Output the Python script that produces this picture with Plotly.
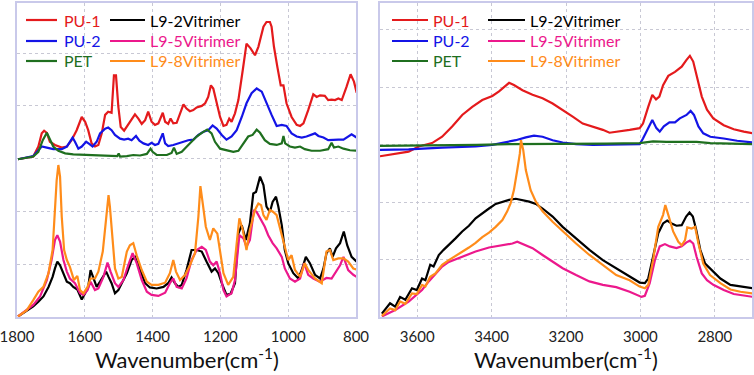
import plotly.graph_objects as go

# ---------------- Left panel (1800-800 cm-1) ----------------
pu1_L_x = [1797,1752,1737,1727,1720,1712,1703,1688,1668,1653,1639,1624,1609,1599,1590,1580,1570,1560,1550,1540,1531,1521,1514,1508,1501,1494,1484,1472,1462,1452,1442,1432,1422,1413,1403,1393,1383,1370,1363,1354,1347,1339,1329,1319,1309,1300,1290,1280,1270,1255,1245,1236,1228,1221,1213,1201,1191,1182,1174,1167,1157,1147,1134,1123,1111,1098,1088,1073,1064,1054,1049,1042,1032,1022,1014,1005,990,975,965,955,941,926,916,906,892,882,872,862,852,842,828,816,806,798]
pu1_L_y = [2.99,3.04,3.23,3.48,3.53,3.49,3.32,3.26,3.21,3.23,3.35,3.54,3.79,3.70,3.54,3.29,3.23,3.26,3.48,3.83,3.89,3.87,4.58,4.58,3.98,3.60,3.53,3.64,3.73,3.84,3.76,3.66,3.73,3.89,3.70,3.64,3.67,3.87,3.70,3.66,3.76,3.67,3.68,3.86,4.03,3.95,3.90,3.92,3.97,4.00,4.05,4.17,4.39,4.33,4.11,3.79,3.62,3.64,3.76,3.70,3.86,4.11,4.68,5.18,5.09,4.96,5.12,5.50,5.59,5.59,5.50,5.12,4.74,4.39,4.39,4.05,3.79,3.64,3.62,3.67,3.92,4.22,4.17,4.20,4.19,4.11,4.12,4.11,4.14,4.11,4.36,4.60,4.46,4.25]

pu2_L_x = [1797,1752,1737,1727,1712,1693,1668,1653,1644,1636,1629,1619,1609,1596,1587,1577,1565,1555,1540,1531,1521,1511,1496,1484,1472,1462,1449,1439,1427,1413,1403,1393,1383,1370,1363,1354,1339,1324,1309,1295,1280,1265,1250,1236,1223,1211,1196,1182,1167,1152,1137,1123,1108,1093,1078,1064,1049,1034,1019,1005,990,975,960,946,931,921,911,896,882,867,852,837,823,813,803,798]
pu2_L_y = [2.99,3.05,3.16,3.23,3.21,3.18,3.18,3.23,3.32,3.40,3.32,3.19,3.23,3.32,3.28,3.23,3.32,3.48,3.57,3.59,3.54,3.45,3.38,3.36,3.38,3.35,3.43,3.34,3.29,3.26,3.30,3.26,3.28,3.48,3.29,3.24,3.26,3.29,3.32,3.35,3.36,3.45,3.51,3.54,3.63,3.57,3.45,3.36,3.42,3.54,3.79,4.05,4.24,4.33,4.27,4.05,3.83,3.62,3.64,3.62,3.48,3.42,3.40,3.42,3.45,3.48,3.43,3.40,3.35,3.36,3.36,3.36,3.42,3.46,3.42,3.40]

pet_L_x = [1797,1752,1737,1724,1712,1703,1693,1678,1658,1634,1604,1575,1545,1516,1504,1500,1496,1476,1457,1437,1417,1406,1400,1388,1358,1344,1337,1329,1314,1299,1285,1270,1255,1239,1226,1216,1201,1182,1162,1147,1132,1118,1105,1093,1083,1069,1054,1034,1019,1014,1009,995,980,965,951,931,906,882,872,865,852,837,818,798]
pet_L_y = [2.99,3.04,3.13,3.35,3.49,3.38,3.23,3.15,3.10,3.08,3.07,3.06,3.05,3.05,3.05,3.10,3.04,3.05,3.07,3.06,3.09,3.19,3.13,3.07,3.07,3.11,3.21,3.09,3.13,3.23,3.32,3.42,3.49,3.55,3.48,3.32,3.19,3.16,3.13,3.15,3.29,3.42,3.45,3.55,3.49,3.35,3.28,3.26,3.29,3.43,3.29,3.23,3.21,3.23,3.18,3.15,3.15,3.18,3.30,3.21,3.23,3.19,3.16,3.15]

l92_L_x = [1797,1752,1737,1722,1707,1695,1688,1681,1673,1663,1653,1644,1634,1622,1609,1599,1590,1583,1575,1565,1555,1537,1530,1521,1511,1501,1491,1476,1462,1452,1442,1432,1422,1408,1388,1368,1354,1344,1334,1324,1314,1300,1285,1270,1255,1241,1226,1216,1206,1196,1182,1170,1157,1147,1137,1125,1113,1103,1095,1083,1073,1064,1054,1046,1036,1029,1019,1010,1000,985,970,960,948,936,921,906,896,887,877,869,859,847,836,826,813,798]
l92_L_y = [0.01,0.20,0.29,0.39,0.57,0.76,0.92,1.05,0.98,0.83,0.67,0.64,0.57,0.52,0.33,0.45,0.57,0.89,0.73,0.57,0.67,0.86,0.76,0.64,0.45,0.51,0.64,0.83,1.08,1.14,0.98,0.80,0.64,0.56,0.54,0.57,0.64,0.75,0.64,0.57,0.61,0.89,1.27,1.27,1.24,1.05,0.86,0.92,0.83,0.64,0.42,0.44,0.64,1.58,1.74,1.46,1.77,2.34,2.37,2.66,2.50,2.09,1.99,2.18,2.28,2.09,1.74,1.27,1.02,0.83,0.73,0.89,1.14,1.02,0.80,0.73,0.92,1.21,1.30,1.14,1.30,1.40,1.62,1.36,1.14,1.05]

l95_L_x = [1797,1752,1732,1712,1698,1688,1681,1673,1663,1653,1644,1629,1614,1604,1592,1583,1570,1560,1545,1533,1524,1511,1501,1486,1472,1459,1447,1432,1417,1403,1383,1363,1349,1339,1329,1314,1300,1285,1270,1255,1243,1231,1221,1211,1201,1191,1182,1167,1157,1144,1132,1123,1113,1101,1093,1083,1069,1059,1046,1034,1019,1010,995,980,965,953,941,926,908,898,887,872,857,847,837,823,808,798]
l95_L_y = [0.01,0.23,0.39,0.70,1.08,1.46,1.55,1.43,1.08,0.86,0.73,0.64,0.45,0.42,0.51,0.67,0.51,0.54,0.76,1.03,0.86,0.64,0.57,0.70,0.98,1.21,1.02,0.70,0.48,0.42,0.40,0.46,0.64,0.73,0.57,0.54,0.73,1.08,1.27,1.33,1.27,1.05,0.98,1.05,0.83,0.51,0.39,0.45,0.70,1.55,1.49,1.33,1.46,2.03,1.99,1.87,1.71,1.55,1.40,1.30,1.14,0.92,0.73,0.67,0.73,1.02,0.80,0.73,0.67,0.70,0.74,0.73,0.89,0.98,1.14,0.89,0.80,0.76]

l98_L_x = [1797,1771,1752,1737,1722,1707,1695,1688,1683,1678,1673,1668,1661,1653,1644,1632,1622,1614,1604,1592,1583,1570,1560,1547,1537,1530,1526,1518,1511,1501,1491,1476,1467,1457,1447,1432,1417,1403,1383,1363,1349,1339,1331,1319,1304,1290,1275,1265,1259,1252,1243,1231,1221,1209,1201,1191,1177,1162,1150,1144,1134,1123,1113,1098,1088,1080,1073,1064,1054,1044,1034,1024,1014,1000,990,980,965,951,941,921,901,887,877,867,852,837,823,808,798]
l98_L_y = [0.01,0.13,0.32,0.48,0.57,0.83,1.27,2.03,2.59,2.88,2.66,1.90,1.27,1.08,0.95,0.70,0.78,0.51,0.45,0.57,0.73,0.73,0.86,1.24,1.90,2.31,2.09,1.40,0.92,0.73,0.76,1.24,1.36,1.40,1.17,0.89,0.67,0.61,0.61,0.65,0.83,1.08,0.86,0.70,0.80,0.98,1.21,1.90,2.48,2.15,1.71,1.46,1.68,1.58,1.27,0.83,0.61,0.76,1.52,1.87,1.65,1.27,1.65,2.03,2.15,2.12,1.93,1.84,2.03,1.99,1.93,1.68,1.40,1.08,1.17,0.89,0.76,1.02,0.89,0.73,0.64,1.24,1.27,1.08,1.11,1.11,1.05,0.92,0.90]

# ---------------- Right panel (3700-2700 cm-1) ----------------
pu1_R_x = [3700,3659,3623,3596,3560,3533,3506,3479,3452,3425,3398,3380,3367,3353,3340,3317,3290,3263,3236,3209,3182,3155,3128,3101,3083,3056,3029,3002,2993,2979,2968,2958,2949,2939,2925,2907,2889,2876,2867,2858,2849,2835,2821,2804,2776,2749,2722,2697]
pu1_R_y = [2.80,2.84,2.88,2.97,3.03,3.14,3.32,3.52,3.66,3.78,3.85,3.93,4.01,4.08,4.04,3.95,3.87,3.81,3.72,3.61,3.49,3.37,3.32,3.26,3.21,3.23,3.26,3.29,3.37,3.66,3.87,3.79,3.84,4.04,4.20,4.27,4.36,4.48,4.55,4.45,4.19,3.84,3.61,3.46,3.34,3.27,3.23,3.20]

pu2_R_x = [3700,3623,3533,3443,3398,3371,3335,3308,3286,3263,3236,3209,3173,3128,3083,3038,3002,2993,2979,2968,2957,2948,2937,2922,2907,2894,2876,2865,2856,2844,2831,2812,2776,2740,2697]
pu2_R_y = [2.91,2.92,2.95,2.97,3.00,3.03,3.08,3.13,3.16,3.14,3.08,3.04,3.01,3.00,3.00,3.00,3.01,3.11,3.29,3.43,3.29,3.23,3.32,3.39,3.39,3.46,3.52,3.59,3.52,3.32,3.20,3.14,3.11,3.07,3.04]

pet_R_x = [3700,3620,3533,3440,3353,3260,3173,3090,3002,2966,2930,2903,2875,2849,2812,2760,2697]
pet_R_y = [2.98,2.99,3.00,3.00,3.01,3.01,3.01,3.02,3.03,3.06,3.05,3.05,3.06,3.05,3.03,3.02,3.01]

l92_R_x = [3695,3673,3659,3646,3632,3614,3601,3587,3578,3565,3556,3542,3529,3515,3497,3479,3461,3443,3425,3407,3389,3371,3353,3335,3317,3299,3281,3263,3236,3209,3173,3137,3101,3065,3029,3002,2988,2979,2966,2952,2939,2928,2916,2903,2889,2877,2868,2859,2850,2839,2826,2808,2785,2758,2731,2697]
l92_R_y = [0.06,0.24,0.18,0.35,0.30,0.50,0.47,0.67,0.64,0.91,0.88,1.08,1.17,1.25,1.37,1.49,1.59,1.72,1.81,1.89,1.97,2.01,2.04,2.06,2.04,2.01,1.97,1.89,1.75,1.57,1.37,1.17,0.99,0.85,0.70,0.60,0.59,0.67,1.05,1.46,1.63,1.68,1.63,1.59,1.60,1.75,1.82,1.75,1.52,1.17,0.93,0.82,0.67,0.56,0.53,0.50]

l95_R_x = [3695,3659,3623,3587,3569,3551,3533,3515,3479,3443,3407,3371,3344,3331,3317,3290,3263,3236,3209,3173,3137,3101,3065,3029,2997,2988,2975,2961,2948,2934,2921,2903,2889,2876,2867,2858,2849,2835,2821,2804,2776,2749,2722,2697]
l95_R_y = [0.01,0.12,0.27,0.47,0.62,0.76,0.88,0.96,1.05,1.14,1.21,1.25,1.28,1.31,1.27,1.20,1.08,0.96,0.85,0.73,0.62,0.56,0.52,0.44,0.35,0.37,0.59,0.99,1.23,1.27,1.23,1.20,1.23,1.30,1.33,1.28,1.05,0.76,0.64,0.56,0.47,0.40,0.37,0.35]

l98_R_x = [3695,3673,3659,3646,3632,3614,3601,3587,3578,3565,3551,3533,3515,3497,3479,3461,3443,3425,3407,3389,3371,3358,3349,3340,3331,3324,3321,3315,3308,3295,3281,3263,3236,3209,3173,3137,3101,3065,3029,3002,2988,2979,2966,2952,2939,2933,2925,2912,2898,2889,2880,2874,2862,2853,2844,2831,2813,2785,2758,2731,2697]
l98_R_y = [0.02,0.15,0.12,0.27,0.23,0.41,0.40,0.56,0.53,0.70,0.76,0.91,0.99,1.06,1.14,1.21,1.29,1.39,1.47,1.57,1.69,1.84,1.98,2.21,2.56,2.85,3.08,2.91,2.56,2.21,2.01,1.84,1.66,1.49,1.28,1.08,0.91,0.73,0.64,0.53,0.50,0.56,0.99,1.57,1.78,1.95,1.78,1.49,1.31,1.25,1.34,1.56,1.54,1.57,1.28,0.93,0.73,0.59,0.48,0.44,0.41]

names = ["PU-1", "PU-2", "PET", "L9-2Vitrimer", "L9-5Vitrimer", "L9-8Vitrimer"]
colors = ["#e41a1c", "#1414e6", "#1f6f1f", "#000000", "#ec188c", "#ff8c1a"]

left_x_ticks = [1800, 1600, 1400, 1200, 1000, 800]
right_x_ticks = [3600, 3400, 3200, 3000, 2800]
axis_title = "Wavenumber(cm<sup>-1</sup>)"

left_series = [(pu1_L_x, pu1_L_y), (pu2_L_x, pu2_L_y), (pet_L_x, pet_L_y),
               (l92_L_x, l92_L_y), (l95_L_x, l95_L_y), (l98_L_x, l98_L_y)]
right_series = [(pu1_R_x, pu1_R_y), (pu2_R_x, pu2_R_y), (pet_R_x, pet_R_y),
                (l92_R_x, l92_R_y), (l95_R_x, l95_R_y), (l98_R_x, l98_R_y)]

FONT = "Lato"
W, H = 754, 375
fig = go.Figure()
for series, xa, ya in [(left_series, "x", "y"), (right_series, "x2", "y2")]:
    for i, (xs, ys) in enumerate(series):
        fig.add_trace(go.Scatter(
            x=xs, y=ys, mode="lines", xaxis=xa, yaxis=ya,
            line=dict(color=colors[i], width=2.2),
            name=names[i], showlegend=False, hoverinfo="skip"))

# Legend (two columns, three rows) drawn in each panel
shapes, annotations = [], []
legend_layout = {
    "L": [(26, 57, 62), (110, 145, 148)],
    "R": [(392, 428, 431), (488, 525, 528)],
}
row_y = [20, 41, 61]
for panel, cols in legend_layout.items():
    for i, nm in enumerate(names):
        c, r = divmod(i, 3)
        lx0, lx1, tx = cols[c]
        yp = 1 - row_y[r] / H
        shapes.append(dict(type="line", xref="paper", yref="paper",
                           x0=lx0 / W, x1=lx1 / W, y0=yp, y1=yp,
                           line=dict(color=colors[i], width=2.2)))
        annotations.append(dict(text=nm, xref="paper", yref="paper",
                                x=tx / W, y=yp, xanchor="left", yanchor="middle",
                                showarrow=False,
                                font=dict(family=FONT, size=16, color=colors[i])))

for cx in [(17 + 356) / 2, (380 + 752) / 2]:
    annotations.append(dict(text=axis_title, xref="paper", yref="paper",
                            x=cx / W, y=1 - 358 / H, xanchor="center", yanchor="middle",
                            showarrow=False,
                            font=dict(family=FONT, size=22, color="#111")))

frame = "#c9c9ea"
grid = "#c8c8d4"
xcommon = dict(showline=True, mirror=True, linecolor=frame, linewidth=1.5,
               showgrid=True, gridcolor=grid, griddash="dot", gridwidth=1,
               ticks="", zeroline=False, ticklabeloverflow="allow", automargin=False,
               tickfont=dict(family=FONT, size=15, color="#222"),
               ticklabelstandoff=5)
ycommon = dict(showline=True, mirror=True, linecolor=frame, linewidth=1.5,
               showgrid=True, gridcolor=grid, griddash="dot", gridwidth=1,
               ticks="", zeroline=False, showticklabels=False, dtick=1, automargin=False)

fig.update_layout(
    width=W, height=H, margin=dict(l=0, r=0, t=0, b=0, autoexpand=False),
    paper_bgcolor="white", plot_bgcolor="white",
    xaxis=dict(domain=[17 / W, 356 / W], range=[1800, 800], tickvals=left_x_ticks, **xcommon),
    yaxis=dict(domain=[1 - 317 / H, 1 - 3 / H], range=[0, 5.95], **ycommon),
    xaxis2=dict(domain=[380 / W, 752 / W], range=[3700, 2700], tickvals=right_x_ticks, anchor="y2", **xcommon),
    yaxis2=dict(domain=[1 - 317 / H, 1 - 3 / H], range=[0, 5.47], anchor="x2", **ycommon),
    shapes=shapes, annotations=annotations, showlegend=False,
)
fig.write_html("out.html", config={"displayModeBar": False},
               post_script="document.body.style.margin='0';document.body.style.overflow='hidden';")
